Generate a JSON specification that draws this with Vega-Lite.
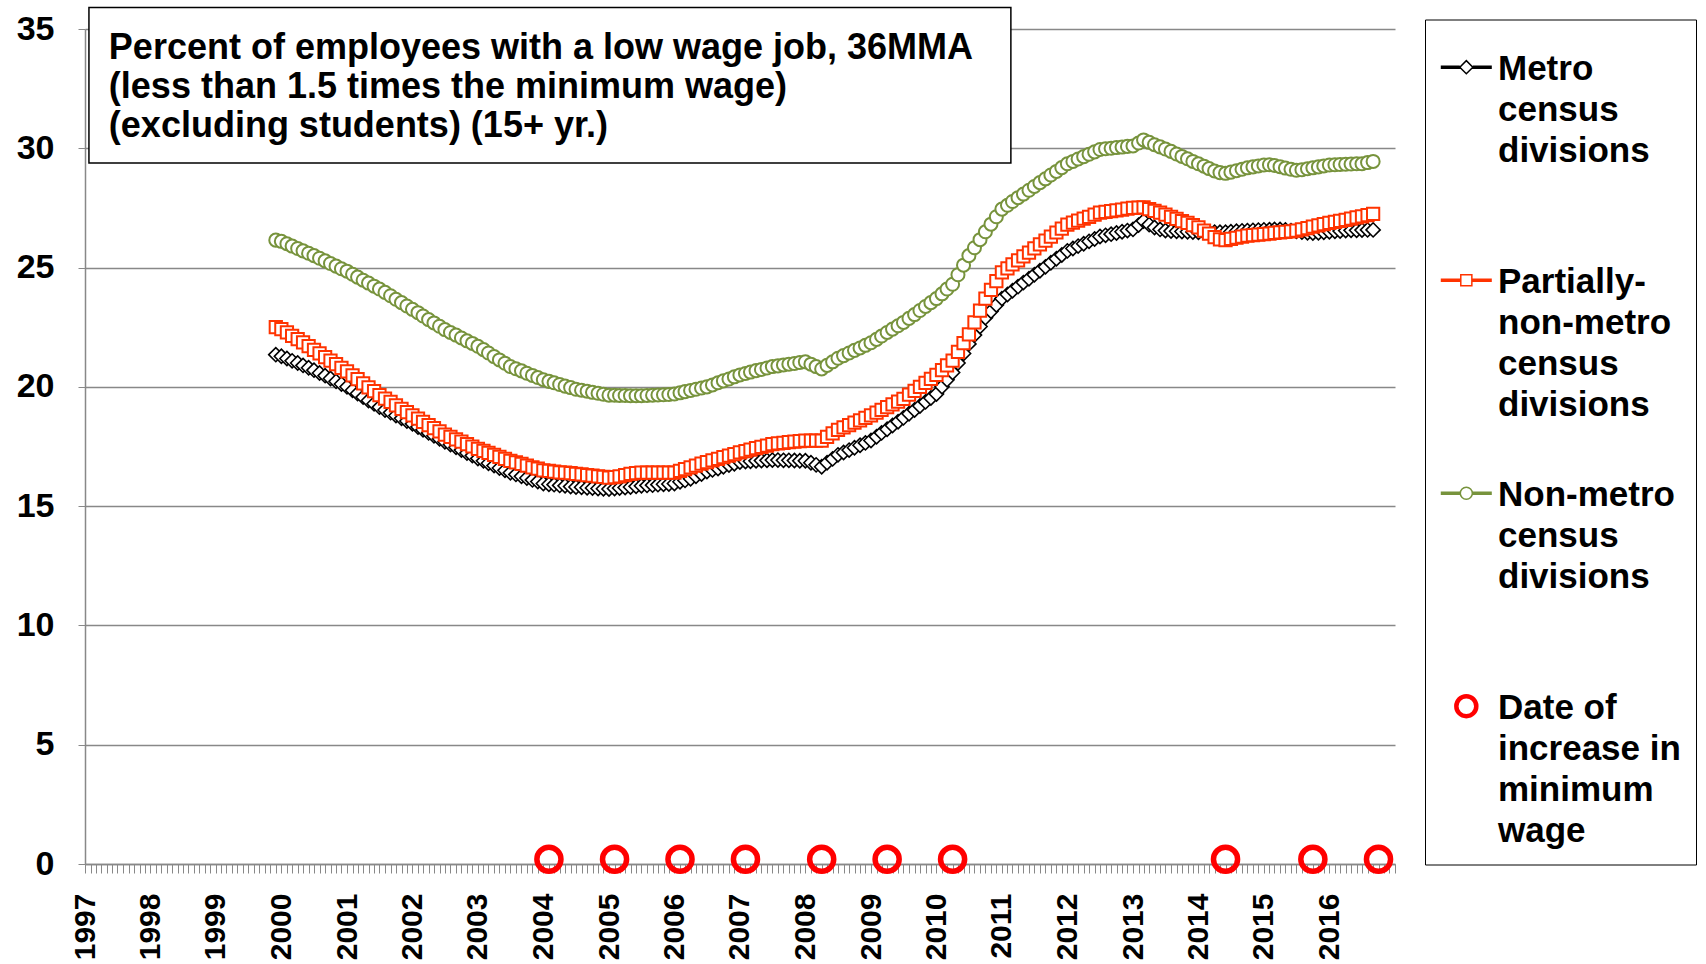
{
  "$schema": "https://vega.github.io/schema/vega-lite/v6.json",
  "autosize": {"type": "none"},
  "width": 1310,
  "height": 835,
  "padding": {"left": 85, "top": 29, "right": 311, "bottom": 100},
  "background": "white",
  "config": {
    "font": "Liberation Sans",
    "view": {"stroke": null},
    "style": {"guide-label": {"lineHeight": 41}}
  },
  "datasets": {
    "keys": [{"k": "Metro"}, {"k": "Partially"}, {"k": "Nonmetro"}, {"k": "Min"}],
    "s": [
      {"d":"1999-12-01","m":21.35,"p":22.5,"n":26.15},
      {"d":"2000-01-01","m":21.28,"p":22.42,"n":26.1},
      {"d":"2000-02-01","m":21.19,"p":22.28,"n":26.0},
      {"d":"2000-03-01","m":21.09,"p":22.14,"n":25.9},
      {"d":"2000-04-01","m":21.0,"p":22.0,"n":25.8},
      {"d":"2000-05-01","m":20.9,"p":21.86,"n":25.7},
      {"d":"2000-06-01","m":20.8,"p":21.71,"n":25.6},
      {"d":"2000-07-01","m":20.7,"p":21.55,"n":25.5},
      {"d":"2000-08-01","m":20.58,"p":21.4,"n":25.39},
      {"d":"2000-09-01","m":20.47,"p":21.25,"n":25.28},
      {"d":"2000-10-01","m":20.35,"p":21.1,"n":25.17},
      {"d":"2000-11-01","m":20.23,"p":20.95,"n":25.06},
      {"d":"2000-12-01","m":20.12,"p":20.8,"n":24.95},
      {"d":"2001-01-01","m":20.0,"p":20.65,"n":24.85},
      {"d":"2001-02-01","m":19.86,"p":20.48,"n":24.72},
      {"d":"2001-03-01","m":19.72,"p":20.32,"n":24.6},
      {"d":"2001-04-01","m":19.57,"p":20.15,"n":24.47},
      {"d":"2001-05-01","m":19.43,"p":19.98,"n":24.35},
      {"d":"2001-06-01","m":19.29,"p":19.82,"n":24.22},
      {"d":"2001-07-01","m":19.15,"p":19.65,"n":24.1},
      {"d":"2001-08-01","m":19.03,"p":19.51,"n":23.96},
      {"d":"2001-09-01","m":18.92,"p":19.37,"n":23.82},
      {"d":"2001-10-01","m":18.8,"p":19.22,"n":23.67},
      {"d":"2001-11-01","m":18.68,"p":19.08,"n":23.53},
      {"d":"2001-12-01","m":18.57,"p":18.94,"n":23.39},
      {"d":"2002-01-01","m":18.45,"p":18.8,"n":23.25},
      {"d":"2002-02-01","m":18.32,"p":18.67,"n":23.11},
      {"d":"2002-03-01","m":18.2,"p":18.53,"n":22.97},
      {"d":"2002-04-01","m":18.07,"p":18.4,"n":22.82},
      {"d":"2002-05-01","m":17.95,"p":18.27,"n":22.68},
      {"d":"2002-06-01","m":17.82,"p":18.13,"n":22.54},
      {"d":"2002-07-01","m":17.7,"p":18.0,"n":22.4},
      {"d":"2002-08-01","m":17.58,"p":17.9,"n":22.28},
      {"d":"2002-09-01","m":17.47,"p":17.8,"n":22.17},
      {"d":"2002-10-01","m":17.35,"p":17.7,"n":22.05},
      {"d":"2002-11-01","m":17.23,"p":17.6,"n":21.93},
      {"d":"2002-12-01","m":17.12,"p":17.5,"n":21.82},
      {"d":"2003-01-01","m":17.0,"p":17.4,"n":21.7},
      {"d":"2003-02-01","m":16.9,"p":17.32,"n":21.56},
      {"d":"2003-03-01","m":16.8,"p":17.23,"n":21.42},
      {"d":"2003-04-01","m":16.7,"p":17.15,"n":21.27},
      {"d":"2003-05-01","m":16.6,"p":17.07,"n":21.13},
      {"d":"2003-06-01","m":16.5,"p":16.98,"n":20.99},
      {"d":"2003-07-01","m":16.4,"p":16.9,"n":20.85},
      {"d":"2003-08-01","m":16.33,"p":16.83,"n":20.76},
      {"d":"2003-09-01","m":16.25,"p":16.77,"n":20.67},
      {"d":"2003-10-01","m":16.18,"p":16.7,"n":20.57},
      {"d":"2003-11-01","m":16.1,"p":16.63,"n":20.48},
      {"d":"2003-12-01","m":16.03,"p":16.57,"n":20.39},
      {"d":"2004-01-01","m":15.95,"p":16.5,"n":20.3},
      {"d":"2004-02-01","m":15.92,"p":16.48,"n":20.23},
      {"d":"2004-03-01","m":15.9,"p":16.45,"n":20.17},
      {"d":"2004-04-01","m":15.87,"p":16.42,"n":20.1},
      {"d":"2004-05-01","m":15.85,"p":16.4,"n":20.03},
      {"d":"2004-06-01","m":15.82,"p":16.38,"n":19.97},
      {"d":"2004-07-01","m":15.8,"p":16.35,"n":19.9},
      {"d":"2004-08-01","m":15.79,"p":16.33,"n":19.86},
      {"d":"2004-09-01","m":15.77,"p":16.3,"n":19.82},
      {"d":"2004-10-01","m":15.76,"p":16.28,"n":19.77},
      {"d":"2004-11-01","m":15.74,"p":16.25,"n":19.73},
      {"d":"2004-12-01","m":15.73,"p":16.23,"n":19.69},
      {"d":"2005-01-01","m":15.72,"p":16.2,"n":19.65},
      {"d":"2005-02-01","m":15.74,"p":16.22,"n":19.65},
      {"d":"2005-03-01","m":15.76,"p":16.25,"n":19.64},
      {"d":"2005-04-01","m":15.78,"p":16.3,"n":19.64},
      {"d":"2005-05-01","m":15.8,"p":16.35,"n":19.63},
      {"d":"2005-06-01","m":15.83,"p":16.38,"n":19.63},
      {"d":"2005-07-01","m":15.85,"p":16.4,"n":19.63},
      {"d":"2005-08-01","m":15.87,"p":16.4,"n":19.64},
      {"d":"2005-09-01","m":15.88,"p":16.4,"n":19.65},
      {"d":"2005-10-01","m":15.9,"p":16.4,"n":19.66},
      {"d":"2005-11-01","m":15.92,"p":16.4,"n":19.67},
      {"d":"2005-12-01","m":15.93,"p":16.4,"n":19.68},
      {"d":"2006-01-01","m":15.95,"p":16.4,"n":19.7},
      {"d":"2006-02-01","m":16.02,"p":16.48,"n":19.75},
      {"d":"2006-03-01","m":16.08,"p":16.55,"n":19.8},
      {"d":"2006-04-01","m":16.15,"p":16.62,"n":19.85},
      {"d":"2006-05-01","m":16.25,"p":16.7,"n":19.9},
      {"d":"2006-06-01","m":16.35,"p":16.78,"n":19.95},
      {"d":"2006-07-01","m":16.45,"p":16.85,"n":20.0},
      {"d":"2006-08-01","m":16.52,"p":16.92,"n":20.08},
      {"d":"2006-09-01","m":16.58,"p":16.98,"n":20.17},
      {"d":"2006-10-01","m":16.65,"p":17.05,"n":20.25},
      {"d":"2006-11-01","m":16.72,"p":17.12,"n":20.33},
      {"d":"2006-12-01","m":16.78,"p":17.18,"n":20.42},
      {"d":"2007-01-01","m":16.85,"p":17.25,"n":20.5},
      {"d":"2007-02-01","m":16.87,"p":17.31,"n":20.56},
      {"d":"2007-03-01","m":16.88,"p":17.37,"n":20.62},
      {"d":"2007-04-01","m":16.9,"p":17.43,"n":20.68},
      {"d":"2007-05-01","m":16.91,"p":17.48,"n":20.73},
      {"d":"2007-06-01","m":16.92,"p":17.54,"n":20.79},
      {"d":"2007-07-01","m":16.93,"p":17.6,"n":20.85},
      {"d":"2007-08-01","m":16.93,"p":17.63,"n":20.88},
      {"d":"2007-09-01","m":16.92,"p":17.65,"n":20.92},
      {"d":"2007-10-01","m":16.92,"p":17.68,"n":20.95},
      {"d":"2007-11-01","m":16.91,"p":17.7,"n":20.98},
      {"d":"2007-12-01","m":16.9,"p":17.73,"n":21.02},
      {"d":"2008-01-01","m":16.9,"p":17.75,"n":21.05},
      {"d":"2008-02-01","m":16.82,"p":17.75,"n":20.95},
      {"d":"2008-03-01","m":16.73,"p":17.75,"n":20.85},
      {"d":"2008-04-01","m":16.65,"p":17.75,"n":20.75},
      {"d":"2008-05-01","m":16.82,"p":17.9,"n":20.9},
      {"d":"2008-06-01","m":16.98,"p":18.05,"n":21.05},
      {"d":"2008-07-01","m":17.15,"p":18.2,"n":21.2},
      {"d":"2008-08-01","m":17.25,"p":18.3,"n":21.31},
      {"d":"2008-09-01","m":17.35,"p":18.4,"n":21.42},
      {"d":"2008-10-01","m":17.45,"p":18.5,"n":21.53},
      {"d":"2008-11-01","m":17.55,"p":18.6,"n":21.63},
      {"d":"2008-12-01","m":17.65,"p":18.7,"n":21.74},
      {"d":"2009-01-01","m":17.75,"p":18.8,"n":21.85},
      {"d":"2009-02-01","m":17.91,"p":18.92,"n":21.99},
      {"d":"2009-03-01","m":18.07,"p":19.03,"n":22.13},
      {"d":"2009-04-01","m":18.22,"p":19.15,"n":22.28},
      {"d":"2009-05-01","m":18.38,"p":19.27,"n":22.42},
      {"d":"2009-06-01","m":18.54,"p":19.38,"n":22.56},
      {"d":"2009-07-01","m":18.7,"p":19.5,"n":22.7},
      {"d":"2009-08-01","m":18.87,"p":19.67,"n":22.87},
      {"d":"2009-09-01","m":19.03,"p":19.83,"n":23.03},
      {"d":"2009-10-01","m":19.2,"p":20.0,"n":23.2},
      {"d":"2009-11-01","m":19.37,"p":20.17,"n":23.37},
      {"d":"2009-12-01","m":19.53,"p":20.33,"n":23.53},
      {"d":"2010-01-01","m":19.7,"p":20.5,"n":23.7},
      {"d":"2010-02-01","m":20.0,"p":20.7,"n":23.9},
      {"d":"2010-03-01","m":20.3,"p":20.9,"n":24.1},
      {"d":"2010-04-01","m":20.6,"p":21.1,"n":24.3},
      {"d":"2010-05-01","m":21.0,"p":21.47,"n":24.7},
      {"d":"2010-06-01","m":21.4,"p":21.83,"n":25.1},
      {"d":"2010-07-01","m":21.8,"p":22.2,"n":25.5},
      {"d":"2010-08-01","m":22.17,"p":22.7,"n":25.83},
      {"d":"2010-09-01","m":22.53,"p":23.2,"n":26.17},
      {"d":"2010-10-01","m":22.9,"p":23.7,"n":26.5},
      {"d":"2010-11-01","m":23.17,"p":24.07,"n":26.82},
      {"d":"2010-12-01","m":23.43,"p":24.43,"n":27.13},
      {"d":"2011-01-01","m":23.7,"p":24.8,"n":27.45},
      {"d":"2011-02-01","m":23.87,"p":24.97,"n":27.61},
      {"d":"2011-03-01","m":24.03,"p":25.13,"n":27.77},
      {"d":"2011-04-01","m":24.2,"p":25.3,"n":27.93},
      {"d":"2011-05-01","m":24.37,"p":25.47,"n":28.08},
      {"d":"2011-06-01","m":24.53,"p":25.63,"n":28.24},
      {"d":"2011-07-01","m":24.7,"p":25.8,"n":28.4},
      {"d":"2011-08-01","m":24.87,"p":25.97,"n":28.56},
      {"d":"2011-09-01","m":25.03,"p":26.13,"n":28.72},
      {"d":"2011-10-01","m":25.2,"p":26.3,"n":28.88},
      {"d":"2011-11-01","m":25.37,"p":26.47,"n":29.03},
      {"d":"2011-12-01","m":25.53,"p":26.63,"n":29.19},
      {"d":"2012-01-01","m":25.7,"p":26.8,"n":29.35},
      {"d":"2012-02-01","m":25.8,"p":26.88,"n":29.45},
      {"d":"2012-03-01","m":25.9,"p":26.97,"n":29.55},
      {"d":"2012-04-01","m":26.0,"p":27.05,"n":29.65},
      {"d":"2012-05-01","m":26.1,"p":27.13,"n":29.75},
      {"d":"2012-06-01","m":26.2,"p":27.22,"n":29.85},
      {"d":"2012-07-01","m":26.3,"p":27.3,"n":29.95},
      {"d":"2012-08-01","m":26.35,"p":27.33,"n":29.98},
      {"d":"2012-09-01","m":26.4,"p":27.37,"n":30.0},
      {"d":"2012-10-01","m":26.45,"p":27.4,"n":30.03},
      {"d":"2012-11-01","m":26.5,"p":27.43,"n":30.05},
      {"d":"2012-12-01","m":26.55,"p":27.47,"n":30.08},
      {"d":"2013-01-01","m":26.6,"p":27.5,"n":30.1},
      {"d":"2013-02-01","m":26.78,"p":27.51,"n":30.22},
      {"d":"2013-03-01","m":26.95,"p":27.52,"n":30.35},
      {"d":"2013-04-01","m":26.8,"p":27.45,"n":30.25},
      {"d":"2013-05-01","m":26.68,"p":27.38,"n":30.15},
      {"d":"2013-06-01","m":26.6,"p":27.3,"n":30.06},
      {"d":"2013-07-01","m":26.55,"p":27.22,"n":29.97},
      {"d":"2013-08-01","m":26.53,"p":27.13,"n":29.87},
      {"d":"2013-09-01","m":26.52,"p":27.04,"n":29.76},
      {"d":"2013-10-01","m":26.51,"p":26.95,"n":29.66},
      {"d":"2013-11-01","m":26.5,"p":26.87,"n":29.56},
      {"d":"2013-12-01","m":26.49,"p":26.78,"n":29.45},
      {"d":"2014-01-01","m":26.48,"p":26.69,"n":29.35},
      {"d":"2014-02-01","m":26.48,"p":26.55,"n":29.25},
      {"d":"2014-03-01","m":26.48,"p":26.42,"n":29.15},
      {"d":"2014-04-01","m":26.48,"p":26.28,"n":29.05},
      {"d":"2014-05-01","m":26.48,"p":26.18,"n":28.98},
      {"d":"2014-06-01","m":26.48,"p":26.15,"n":28.95},
      {"d":"2014-07-01","m":26.5,"p":26.2,"n":29.0},
      {"d":"2014-08-01","m":26.52,"p":26.25,"n":29.06},
      {"d":"2014-09-01","m":26.54,"p":26.3,"n":29.12},
      {"d":"2014-10-01","m":26.55,"p":26.34,"n":29.18},
      {"d":"2014-11-01","m":26.56,"p":26.36,"n":29.22},
      {"d":"2014-12-01","m":26.57,"p":26.38,"n":29.26},
      {"d":"2015-01-01","m":26.58,"p":26.4,"n":29.3},
      {"d":"2015-02-01","m":26.59,"p":26.42,"n":29.31},
      {"d":"2015-03-01","m":26.6,"p":26.45,"n":29.28},
      {"d":"2015-04-01","m":26.6,"p":26.48,"n":29.23},
      {"d":"2015-05-01","m":26.58,"p":26.5,"n":29.17},
      {"d":"2015-06-01","m":26.55,"p":26.52,"n":29.12},
      {"d":"2015-07-01","m":26.52,"p":26.55,"n":29.08},
      {"d":"2015-08-01","m":26.49,"p":26.6,"n":29.1},
      {"d":"2015-09-01","m":26.46,"p":26.65,"n":29.14},
      {"d":"2015-10-01","m":26.45,"p":26.72,"n":29.18},
      {"d":"2015-11-01","m":26.46,"p":26.77,"n":29.22},
      {"d":"2015-12-01","m":26.48,"p":26.82,"n":29.26},
      {"d":"2016-01-01","m":26.5,"p":26.87,"n":29.3},
      {"d":"2016-02-01","m":26.52,"p":26.92,"n":29.31},
      {"d":"2016-03-01","m":26.53,"p":26.96,"n":29.32},
      {"d":"2016-04-01","m":26.55,"p":27.0,"n":29.33},
      {"d":"2016-05-01","m":26.56,"p":27.05,"n":29.34},
      {"d":"2016-06-01","m":26.56,"p":27.1,"n":29.35},
      {"d":"2016-07-01","m":26.57,"p":27.15,"n":29.35},
      {"d":"2016-08-01","m":26.58,"p":27.2,"n":29.4},
      {"d":"2016-09-01","m":26.58,"p":27.25,"n":29.45}
    ],
    "mw": [
      {"d":"2004-02-01"},{"d":"2005-02-01"},{"d":"2006-02-01"},{"d":"2007-02-01"},
      {"d":"2008-04-01"},{"d":"2009-04-01"},{"d":"2010-04-01"},
      {"d":"2014-06-01"},{"d":"2015-10-01"},{"d":"2016-10-01"}
    ]
  },
  "layer": [
    {
      "data": {"name": "keys"},
      "mark": {"type": "point", "filled": false, "opacity": 0},
      "encoding": {
        "color": {
          "field": "k", "type": "nominal",
          "scale": {"domain": ["Metro", "Partially", "Nonmetro", "Min"], "range": ["#000000", "#FF3300", "#77933C", "#FF0000"]},
          "legend": {
            "title": null, "orient": "none", "legendX": 1340, "legendY": -9.5,
            "direction": "vertical", "columns": 1, "gridAlign": "all", "rowPadding": 37,
            "padding": 15, "strokeColor": "black", "fillColor": "white",
            "symbolSize": 196, "symbolStrokeWidth": 1.5, "symbolOpacity": 1, "labelOffset": 23, "labelLimit": 400,
            "labelFontSize": 35, "labelFontWeight": "bold", "labelColor": "black", "labelBaseline": "top",
            "labelExpr": "datum.value == 'Metro' ? ['Metro','census','divisions'] : datum.value == 'Partially' ? ['Partially-','non-metro','census','divisions'] : datum.value == 'Nonmetro' ? ['Non-metro','census','divisions'] : ['Date of','increase in','minimum','wage']"
          }
        },
        "shape": {
          "field": "k", "type": "nominal",
          "scale": {
            "domain": ["Metro", "Partially", "Nonmetro", "Min"],
            "range": [
              "M-2.39,2.03H0.33M-2.39,2.17H0.33M-2.39,2.31H0.33M2.19,2.03H4.9M2.19,2.17H4.9M2.19,2.31H4.9M0.33,2.17L1.26,1.24L2.19,2.17L1.26,3.1Z",
              "M-2.39,2.03H0.47M-2.39,2.17H0.47M-2.39,2.31H0.47M2.05,2.03H4.9M2.05,2.17H4.9M2.05,2.31H4.9M0.47,1.38H2.05V2.96H0.47Z",
              "M-2.39,2.03H0.41M-2.39,2.17H0.41M-2.39,2.31H0.41M2.11,2.03H4.9M2.11,2.17H4.9M2.11,2.31H4.9M0.4,2.17A0.86,0.86 0 1,1 2.12,2.17A0.86,0.86 0 1,1 0.4,2.17Z",
              "M0.05,2.17A1.21,1.21 0 1,1 2.47,2.17A1.21,1.21 0 1,1 0.05,2.17Z M-0.1,2.17A1.36,1.36 0 1,1 2.62,2.17A1.36,1.36 0 1,1 -0.1,2.17Z M-0.24,2.17A1.5,1.5 0 1,1 2.76,2.17A1.5,1.5 0 1,1 -0.24,2.17Z M-0.38,2.17A1.64,1.64 0 1,1 2.9,2.17A1.64,1.64 0 1,1 -0.38,2.17Z"
            ]
          },
          "legend": {
            "title": null, "orient": "none", "legendX": 1340, "legendY": -9.5,
            "direction": "vertical", "columns": 1, "gridAlign": "all", "rowPadding": 37,
            "padding": 15, "strokeColor": "black", "fillColor": "white",
            "symbolSize": 196, "symbolStrokeWidth": 1.5, "symbolOpacity": 1, "labelOffset": 23, "labelLimit": 400,
            "labelFontSize": 35, "labelFontWeight": "bold", "labelColor": "black", "labelBaseline": "top",
            "labelExpr": "datum.value == 'Metro' ? ['Metro','census','divisions'] : datum.value == 'Partially' ? ['Partially-','non-metro','census','divisions'] : datum.value == 'Nonmetro' ? ['Non-metro','census','divisions'] : ['Date of','increase in','minimum','wage']"
          }
        }
      }
    },
    {
      "data": {"name": "s"},
      "mark": {"type": "line", "strokeWidth": 2.5},
      "encoding": {
        "x": {
          "field": "d", "type": "temporal",
          "scale": {"type": "utc", "nice": false, "domain": [{"year": 1997, "month": 1, "date": 1, "utc": true}, {"year": 2017, "month": 1, "date": 1, "utc": true}]},
          "axis": {
            "title": null, "grid": false,
            "tickCount": {"interval": "month", "step": 1},
            "labelExpr": "utcmonth(datum.value) == 0 && utcyear(datum.value) < 2017 ? utcFormat(datum.value, '%Y') : ''",
            "labelAngle": 270, "labelFontSize": 30, "labelFontWeight": "bold", "labelColor": "black",
            "labelPadding": 20, "labelOverlap": false, "labelFlush": false, "labelBound": false,
            "domainColor": "#888888", "domainWidth": 1.5, "tickColor": "#888888", "tickSize": 9, "tickWidth": 1
          }
        },
        "y": {
          "field": "m", "type": "quantitative",
          "scale": {"domain": [0, 35], "nice": false},
          "axis": {
            "title": null, "values": [0, 5, 10, 15, 20, 25, 30, 35],
            "grid": true, "gridColor": "#888888", "gridWidth": 1.5,
            "domainColor": "#888888", "domainWidth": 1.5, "tickColor": "#888888", "tickSize": 7,
            "labelFontSize": 34, "labelFontWeight": "bold", "labelColor": "black", "labelPadding": 24
          }
        },
        "color": {"datum": "Metro"}
      }
    },
    {
      "data": {"name": "s"},
      "mark": {"type": "point", "shape": "diamond", "filled": false, "fill": "white", "size": 200, "strokeWidth": 1.6, "opacity": 1},
      "encoding": {
        "x": {"field": "d", "type": "temporal"},
        "y": {"field": "m", "type": "quantitative"},
        "color": {"datum": "Metro"}
      }
    },
    {
      "data": {"name": "s"},
      "mark": {"type": "line", "strokeWidth": 2.5},
      "encoding": {
        "x": {"field": "d", "type": "temporal"},
        "y": {"field": "p", "type": "quantitative"},
        "color": {"datum": "Partially"}
      }
    },
    {
      "data": {"name": "s"},
      "mark": {"type": "point", "shape": "square", "filled": false, "fill": "white", "size": 150, "strokeWidth": 2, "opacity": 1},
      "encoding": {
        "x": {"field": "d", "type": "temporal"},
        "y": {"field": "p", "type": "quantitative"},
        "color": {"datum": "Partially"}
      }
    },
    {
      "data": {"name": "s"},
      "mark": {"type": "line", "strokeWidth": 2.5},
      "encoding": {
        "x": {"field": "d", "type": "temporal"},
        "y": {"field": "n", "type": "quantitative"},
        "color": {"datum": "Nonmetro"}
      }
    },
    {
      "data": {"name": "s"},
      "mark": {"type": "point", "shape": "circle", "filled": false, "fill": "white", "size": 170, "strokeWidth": 2, "opacity": 1},
      "encoding": {
        "x": {"field": "d", "type": "temporal"},
        "y": {"field": "n", "type": "quantitative"},
        "color": {"datum": "Nonmetro"}
      }
    },
    {
      "data": {"name": "mw"},
      "mark": {"type": "point", "shape": "circle", "filled": false, "size": 580, "strokeWidth": 5.5, "opacity": 1},
      "encoding": {
        "x": {"field": "d", "type": "temporal"},
        "y": {"datum": 0.2, "type": "quantitative"},
        "color": {"datum": "Min"}
      }
    },
    {
      "data": {"values": [{}]},
      "mark": {"type": "rect", "fill": "white", "stroke": "black", "strokeWidth": 1.5},
      "encoding": {
        "x": {"datum": {"year": 1997, "month": 1, "date": 23, "utc": true}, "type": "temporal"},
        "x2": {"datum": {"year": 2011, "month": 2, "date": 20, "utc": true}},
        "y": {"datum": 35.9, "type": "quantitative"},
        "y2": {"datum": 29.38}
      }
    },
    {
      "data": {"values": [{}]},
      "mark": {
        "type": "text", "align": "left", "baseline": "top", "fontSize": 36, "fontWeight": "bold",
        "lineHeight": 39, "color": "black",
        "text": ["Percent of employees with a low wage job, 36MMA", "(less than 1.5 times the minimum wage)", "(excluding students) (15+ yr.)"]
      },
      "encoding": {
        "x": {"datum": {"year": 1997, "month": 5, "date": 14, "utc": true}, "type": "temporal"},
        "y": {"datum": 34.92, "type": "quantitative"}
      }
    }
  ]
}
